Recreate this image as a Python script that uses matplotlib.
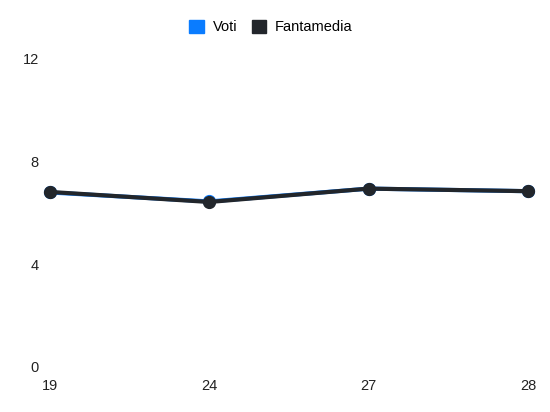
import matplotlib
matplotlib.use("Agg")
import matplotlib.pyplot as plt
from matplotlib.patches import Patch

plt.rcParams['font.family'] = ['Liberation Sans', 'DejaVu Sans']

giornate = ["19", "24", "27", "28"]
voti = [6.8, 6.45, 6.95, 6.85]
fantamedia = [6.82, 6.43, 6.95, 6.85]
y_ticks = [0, 4, 8, 12]

blue = "#0a7cff"
dark = "#22262b"

fig = plt.figure(figsize=(5.5, 4.12), dpi=100)
ax = fig.add_axes([50/550, 1 - 367/412, (528-50)/550, (367-59)/412])

x = list(range(len(giornate)))
ax.plot(x, voti, color=blue, lw=3, marker='o', ms=8.5, zorder=2, clip_on=False)
ax.plot(x, fantamedia, color=dark, lw=3, marker='o', ms=8.5, zorder=3, clip_on=False)

ax.set_xlim(0, len(giornate) - 1)
ax.set_ylim(0, 12)
ax.set_xticks(x)
ax.set_xticklabels(giornate)
ax.set_yticks(y_ticks)
ax.tick_params(length=0, labelsize=10.5, colors='#222222')
ax.tick_params(axis='y', pad=8)
ax.tick_params(axis='x', pad=9)
for s in ax.spines.values():
    s.set_visible(False)

handles = [Patch(facecolor=blue, edgecolor=blue), Patch(facecolor=dark, edgecolor=dark)]
fig.legend(handles, ["Voti", "Fantamedia"], loc='center', bbox_to_anchor=(271/550, 1 - 27/412),
           ncol=2, frameon=False, fontsize=10.5, handlelength=1.0, handleheight=1.0,
           handletextpad=0.6, columnspacing=1.0)

fig.savefig("out.png", dpi=100)
